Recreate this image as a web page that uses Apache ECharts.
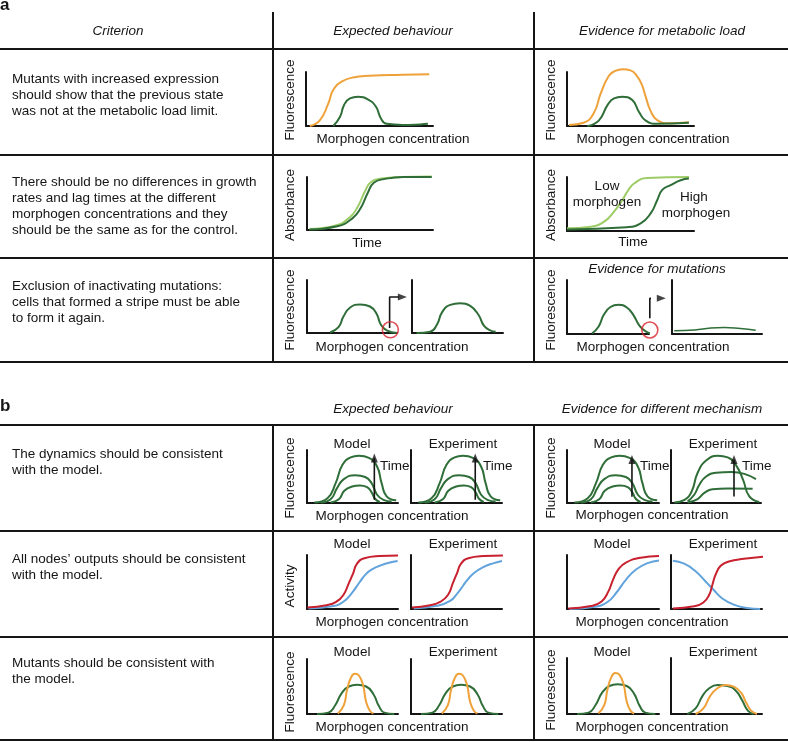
<!DOCTYPE html>
<html><head><meta charset="utf-8">
<script src="https://cdn.jsdelivr.net/npm/echarts@6/dist/echarts.min.js"></script>
<style>html,body{margin:0;padding:0;background:#fff}#c{width:788px;height:742px}</style>
</head><body><div id="c"></div>
<script>
// ---------- DATA (chart units: x 0-100 along x-axis, y 0-100 up the y-axis) ----------
// Panel a, row 1
const a1ExpOrange = [[3,0],[11,11],[17.6,42],[21.5,67],[28,82],[37,90],[50,93],[76,95],[97,96]];
const a1ExpGreen  = [[21.5,0],[26.8,17],[30,39],[34.6,51],[41,54],[49,49],[55,36],[59,14],[63.5,4],[76,2],[90,3],[96,4]];
const a1EvOrange  = [[1.6,2],[13,6],[21,23.5],[26.5,60],[33,93],[38,102],[44,105],[50,103],[55,93],[59,76],[62,54],[66,27],[71,11],[81,5],[96,7]];
const a1EvGreen   = [[16,0],[25,10],[32,39],[37,51],[43.5,54],[51.4,48],[56.7,26],[62,10],[71,4],[96,6]];
// Panel a, row 2
const a2ExpDark   = [[2,1],[24,7],[36,22],[42.5,41],[48,69],[53,89],[61,96],[76.6,100],[99,100]];
const a2ExpLight  = [[2,2],[22,8],[34,24],[40.5,45],[46,73],[51,91],[59,97],[75,100],[99,101]];
const a2EvLight   = [[0,5],[18.6,8],[29,17],[37,36],[43.5,57],[47.5,73],[52.8,88],[63,98],[96,100]];
const a2EvDark    = [[0,3],[47,7],[58,14],[66,33],[71,57],[75,76],[81.6,85],[89.5,94],[96,97]];
// Panel a, row 3
const a3ExpFirst  = [[25.6,1],[35,11],[40.5,31],[48,48],[59,54],[70,50],[77.4,36],[82,16],[88.5,5],[100,0]];
const a3ExpSecond = [[5,0],[20,2.5],[27.5,16],[33,39],[42,53],[53,56],[64,51],[73,34.5],[79,14],[86,5],[92,2.5]];
const a3EvFirst   = [[30.5,1],[38.6,14],[44.7,35],[53,50],[63,54],[73,49],[81,35],[89,14],[97,4],[104,1]];
const a3EvSecond  = [[2.5,6],[25,7.4],[43,11],[58,12],[76,10],[93,7]];
// Panel b, row 1 (stripe over time)
const b1ModelT3 = [[8,1],[22.5,9],[31.5,37.5],[39,72],[48,86],[57,89],[68,85],[77,69],[82,37.5],[87.5,12.5],[98,5]];
const b1ModelT2 = [[15,1],[26,7],[33,28],[40.5,45],[53,52.5],[64,49],[71,37.5],[77,15.6],[84,6],[93,3]];
const b1ModelT1 = [[26,1],[35,7],[41,23],[49.6,31],[58,33],[66,30],[71,20],[75,7.5],[80,2]];
const b1EvExpT3 = [[3.7,1],[15,6],[23,22],[29.6,57],[39,80],[52,89],[63,86],[72,72],[80,44],[87,12.5],[98,2]];
const b1EvExpT2 = [[18.5,3],[26,16],[31.5,34.5],[39,50],[50,57],[67,58.5],[81.5,55],[94.4,45]];
const b1EvExpT1 = [[18.5,1],[29.6,7.5],[37,19],[46,26],[63,27.5],[90.7,27]];
// Panel b, row 2 (activity)
const b2ModelRed  = [[0.4,3],[21.4,7],[32,13],[40,26],[46,48],[50.7,66],[55,84],[63,94],[79.6,98],[100,99]];
const b2ModelBlue = [[1.5,1],[29,5.5],[40,13.5],[49,29],[58,50],[65,65],[72,74],[80,80],[90,85.5],[99.6,89]];
const b2ExpRed    = [[1,3],[21,7],[32,13],[40.6,26],[46,48],[50.5,66],[55,84],[63,94],[80,98],[101,99]];
const b2ExpBlue   = [[3,1],[28.5,6],[43,15],[51,29],[57,42.6],[62,54],[69.6,67],[80,78],[91,85],[100,89]];
const b2EvModelRed  = [[1.4,1],[26,5.5],[37.6,14],[45,32.6],[50,54],[56,74],[64,86],[80,95],[100,98]];
const b2EvModelBlue = [[2.5,0],[30,4],[44,13],[54,31],[64,54],[75,73],[87.6,85],[100,90]];
const b2EvExpBlue = [[2,89.4],[14.5,84],[27,70],[38,51],[46.5,36],[56,20],[69,8],[83.6,2],[98,0]];
const b2EvExpRed  = [[2,1],[25.5,5],[35.6,12],[42,26.5],[45.5,45],[49,63.5],[54.6,80],[63.6,88],[80,93],[102,97]];
// Panel b, row 3 (mutants)
const b3ModelOrange = [[34,1],[40.5,16],[44,43.6],[48,65],[52.5,73],[57,70],[61.5,53],[65,22],[69,6],[73,1]];
const b3ModelGreen  = [[11,0],[23.5,2.5],[31,16],[38,37.6],[46,50],[55,53],[65,50],[73,36],[79,14.5],[85,2.5],[96,0]];
const b3EvExpGreen  = [[18,0],[27,10],[34.5,32],[42,46],[51,52],[62,50],[71,42],[78,25],[84.4,6],[91,0]];
const b3EvExpOrange = [[27,0],[35.6,10],[43,32],[51,46],[60,52],[69,49],[77,38],[83,19],[88,6],[94.5,0]];
// Annotations: [chart, x, yBottom, yTop]
const timeArrows  = [['b1m1',74,6,85],['b1m2',70.6,6,85],['b1r1',70.6,12,82],['b1r2',70,12.5,82]];
// elbow arrows: [chart, x, yBottom, yTop, xEnd]
const elbowArrows = [['a3m1',91.8,9.4,68,106],['a3r1',101,29,66,115]];
const circles     = [['a3m1',92.6,6],['a3r1',101,7.4]];

// ---------- LAYOUT ----------
const charts = [
  {key:'a1m', left:306, top:72,  width:127, height:54},
  {key:'a1r', left:567, top:72,  width:127, height:54},
  {key:'a2m', left:307, top:177, width:126, height:53},
  {key:'a2r', left:567, top:177, width:127, height:54},
  {key:'a3m1',left:307, top:280, width:90,  height:53},
  {key:'a3m2',left:412, top:280, width:91,  height:53},
  {key:'a3r1',left:567, top:280, width:82,  height:54},
  {key:'a3r2',left:672, top:280, width:90,  height:54},
  {key:'b1m1',left:307, top:450, width:91,  height:53},
  {key:'b1m2',left:411, top:450, width:91,  height:53},
  {key:'b1r1',left:567, top:450, width:92,  height:53},
  {key:'b1r2',left:671, top:450, width:90,  height:53},
  {key:'b2m1',left:307, top:555, width:91,  height:54},
  {key:'b2m2',left:411, top:555, width:91,  height:54},
  {key:'b2r1',left:567, top:555, width:92,  height:54},
  {key:'b2r2',left:671, top:555, width:91,  height:54},
  {key:'b3m1',left:307, top:659, width:91,  height:55},
  {key:'b3m2',left:411, top:659, width:91,  height:55},
  {key:'b3r1',left:567, top:658, width:92,  height:56},
  {key:'b3r2',left:671, top:658, width:91,  height:56}
];
const ORANGE='#EFA13A', DK='#2F6E38', LT='#9DCC66', RED='#C8202E', BLUE='#62A3DB', CRED='#D7262F', INK='#151515';
const curves = [
  ['a1m',a1ExpOrange,ORANGE],['a1m',a1ExpGreen,DK],
  ['a1r',a1EvOrange,ORANGE],['a1r',a1EvGreen,DK],
  ['a2m',a2ExpLight,LT],['a2m',a2ExpDark,DK],
  ['a2r',a2EvLight,LT],['a2r',a2EvDark,DK],
  ['a3m1',a3ExpFirst,DK],['a3m2',a3ExpSecond,DK],
  ['a3r1',a3EvFirst,DK],['a3r2',a3EvSecond,DK,1.5],
  ['b1m1',b1ModelT3,DK],['b1m1',b1ModelT2,DK],['b1m1',b1ModelT1,DK],
  ['b1m2',b1ModelT3,DK],['b1m2',b1ModelT2,DK],['b1m2',b1ModelT1,DK],
  ['b1r1',b1ModelT3,DK],['b1r1',b1ModelT2,DK],['b1r1',b1ModelT1,DK],
  ['b1r2',b1EvExpT3,DK],['b1r2',b1EvExpT2,DK],['b1r2',b1EvExpT1,DK],
  ['b2m1',b2ModelBlue,BLUE],['b2m1',b2ModelRed,RED],
  ['b2m2',b2ExpBlue,BLUE],['b2m2',b2ExpRed,RED],
  ['b2r1',b2EvModelBlue,BLUE],['b2r1',b2EvModelRed,RED],
  ['b2r2',b2EvExpBlue,BLUE],['b2r2',b2EvExpRed,RED],
  ['b3m1',b3ModelGreen,DK],['b3m1',b3ModelOrange,ORANGE],
  ['b3m2',b3ModelGreen,DK],['b3m2',b3ModelOrange,ORANGE],
  ['b3r1',b3ModelGreen,DK],['b3r1',b3ModelOrange,ORANGE],
  ['b3r2',b3EvExpGreen,DK],['b3r2',b3EvExpOrange,ORANGE]
];

const idx = {}; charts.forEach((c,i)=>idx[c.key]=i);
const axisBase = {type:'value',min:0,max:100,axisTick:{show:false},axisLabel:{show:false},splitLine:{show:false},
  axisLine:{show:true,onZero:false,lineStyle:{color:INK,width:2}}};
const grid=[],xAxis=[],yAxis=[],series=[];
charts.forEach((c,i)=>{
  grid.push({left:c.left,top:c.top,width:c.width,height:c.height});
  xAxis.push(Object.assign({gridIndex:i},axisBase));
  yAxis.push(Object.assign({gridIndex:i},axisBase));
});
curves.forEach(([k,d,col,w])=>series.push({type:'line',xAxisIndex:idx[k],yAxisIndex:idx[k],data:d,smooth:true,
  symbol:'none',showSymbol:false,clip:false,silent:true,lineStyle:{color:col,width:w||2}}));
timeArrows.forEach(([k,x,y0,y1])=>{
  series.push({type:'line',xAxisIndex:idx[k],yAxisIndex:idx[k],data:[[x,y0],[x,y1]],symbol:'none',clip:false,silent:true,z:5,lineStyle:{color:INK,width:1.6}});
  series.push({type:'scatter',xAxisIndex:idx[k],yAxisIndex:idx[k],data:[[x,y1]],symbol:'triangle',symbolSize:[7,9],clip:false,silent:true,z:5,itemStyle:{color:INK}});
});
elbowArrows.forEach(([k,x,y0,y1,x2])=>{
  series.push({type:'line',xAxisIndex:idx[k],yAxisIndex:idx[k],data:[[x,y0],[x,y1],[x2,y1]],symbol:'none',clip:false,silent:true,z:5,lineStyle:{color:INK,width:1.6}});
  series.push({type:'scatter',xAxisIndex:idx[k],yAxisIndex:idx[k],data:[[x2,y1]],symbol:'triangle',symbolRotate:-90,symbolSize:[7,9],clip:false,silent:true,z:5,itemStyle:{color:INK}});
});
circles.forEach(([k,x,y])=>series.push({type:'scatter',xAxisIndex:idx[k],yAxisIndex:idx[k],data:[[x,y]],symbol:'circle',symbolSize:16,
  clip:false,silent:true,z:6,itemStyle:{color:'rgba(0,0,0,0)',borderColor:CRED,borderWidth:1.6}}));

// ---------- TEXT & TABLE RULES ----------
const FONT='"Liberation Sans", Arial, Helvetica, sans-serif';
const g=[];
function T(text,x,y,o){o=o||{};
  const al=o.align||'center';
  g.push({type:'text',x:x,y:y,rotation:o.rot?Math.PI/2:0,silent:true,z:10,
    style:{text:text,x:0,y:0,font:(o.style||'')+' '+(o.size||13.5)+'px '+FONT,fill:INK,
      align:al,verticalAlign:'middle',textAlign:al,textVerticalAlign:'middle'}});
}
function L(x1,y1,x2,y2){g.push({type:'line',silent:true,z:1,shape:{x1:x1,y1:y1,x2:x2,y2:y2},style:{stroke:INK,lineWidth:2}});}
[49,155,258,362,425,531,637,740].forEach(y=>L(0,y,788,y));
[273,534].forEach(x=>{L(x,12,x,362);L(x,425,x,741);});

T('a',0,5,{align:'left',style:'bold',size:17});
T('b',0,406,{align:'left',style:'bold',size:17});
T('Criterion',118,31,{style:'italic'});
T('Expected behaviour',393,31,{style:'italic'});
T('Evidence for metabolic load',662,31,{style:'italic'});
T('Expected behaviour',393,409,{style:'italic'});
T('Evidence for different mechanism',662,409,{style:'italic'});
T('Evidence for mutations',657,269,{style:'italic'});
const rows=[
  [79,['Mutants with increased expression','should show that the previous state','was not at the metabolic load limit.']],
  [182,['There should be no differences in growth','rates and lag times at the different','morphogen concentrations and they','should be the same as for the control.']],
  [286,['Exclusion of inactivating mutations:','cells that formed a stripe must be able','to form it again.']],
  [454,['The dynamics should be consistent','with the model.']],
  [559,['All nodes\u2019 outputs should be consistent','with the model.']],
  [663,['Mutants should be consistent with','the model.']]
];
rows.forEach(([y0,ls])=>ls.forEach((s,i)=>T(s,12,y0+16*i,{align:'left'})));
// axis titles
[[290,100,'Fluorescence'],[551,100,'Fluorescence'],[290,205,'Absorbance'],[551,205,'Absorbance'],
 [290,310,'Fluorescence'],[551,310,'Fluorescence'],[290,478,'Fluorescence'],[551,478,'Fluorescence'],
 [290,586,'Activity'],[290,692,'Fluorescence'],[551,690,'Fluorescence']].forEach(([x,y,s])=>T(s,x,y,{rot:true}));
[[393,139],[653,139],[392,347],[653,347],[392,516],[652,515],[392,622],[652,622],[392,727],[652,727]]
  .forEach(([x,y])=>T('Morphogen concentration',x,y));
T('Time',367,243);T('Time',633,242);
T('Low',607,186);T('morphogen',607,202);T('High',694,197);T('morphogen',696,213);
[444,544,652].forEach(y=>{T('Model',352,y);T('Experiment',463,y);T('Model',612,y);T('Experiment',723,y);});
[[380,466],[483,466],[640,466],[742,466]].forEach(([x,y])=>T('Time',x,y,{align:'left'}));

const chart=echarts.init(document.getElementById('c'),null,{renderer:'canvas'});
chart.setOption({animation:false,backgroundColor:'#fff',grid,xAxis,yAxis,series,graphic:{elements:g}});
</script></body></html>
